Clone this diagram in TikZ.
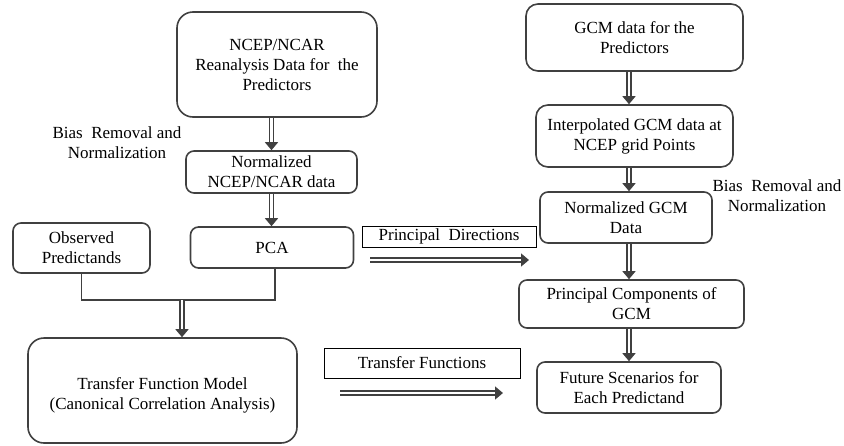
\documentclass[tikz,border=0pt]{standalone}
\usepackage{fontspec}
\setmainfont{Liberation Serif}
\usetikzlibrary{arrows.meta,calc}
\begin{document}
\begin{tikzpicture}[x=1pt,y=-1pt,
  txt/.style={font=\fontsize{17}{20}\selectfont},
  box/.style={txt, draw=black!75, line width=1.6pt, rounded corners=8pt,
    align=center, inner sep=0pt},
  tagbox/.style={txt, draw=black, line width=0.7pt, align=center, inner sep=0pt},
  flow/.style={draw=black!75, line width=1.5pt, double=white, double distance=2.6pt,
    -{Triangle[length=8pt,width=13pt]}},
  link/.style={draw=black!75, line width=1.6pt},
  note/.style={txt, align=center}]
\useasboundingbox (0,0) rectangle (844,445);

% left column
\node[box, minimum width=200pt, minimum height=105pt, rounded corners=16pt] (ncep) at (277,64.5)
  {NCEP/NCAR\\Reanalysis Data for\ \ the\\Predictors};
\node[box, minimum width=171pt, minimum height=42pt] (normn) at (271.5,172)
  {Normalized\\NCEP/NCAR data};
\node[box, minimum width=137pt, minimum height=50pt] (obs) at (81.5,248)
  {Observed\\Predictands};
\node[box, minimum width=163pt, minimum height=41pt] (pca) at (272,247.5) {PCA};
\node[box, minimum width=269pt, minimum height=105pt, rounded corners=16pt] (tfm) at (162.5,390.5)
  {\rule{0pt}{22pt}Transfer Function Model\\(Canonical Correlation Analysis)};
\node[note] (biasL) at (117,143) {Bias\ \ Removal and\\Normalization};

% right column
\node[box, minimum width=217pt, minimum height=67pt, rounded corners=12pt] (gcm) at (634.5,37.5)
  {GCM data for the\\Predictors};
\node[box, minimum width=197pt, minimum height=62pt, rounded corners=12pt] (interp) at (634.5,136)
  {Interpolated GCM data at\\NCEP grid Points};
\node[box, minimum width=172pt, minimum height=51pt] (normg) at (626,217.5)
  {Normalized GCM\\Data};
\node[box, minimum width=225pt, minimum height=48pt] (pcg) at (631.5,304)
  {Principal Components of\\GCM};
\node[box, minimum width=184pt, minimum height=51pt] (fut) at (629,387.5)
  {Future Scenarios for\\Each Predictand};
\node[note] (biasR) at (777,196) {Bias\ \ Removal and\\Normalization};

% labelled transfers between the columns
\node[tagbox, minimum width=174pt, minimum height=21pt] (pdir) at (449,236.5)
  {Principal\ \ Directions};
\node[tagbox, minimum width=196pt, minimum height=30pt] (tfn) at (422,363)
  {Transfer Functions};
\coordinate (pdA) at (370,260);
\coordinate (pdB) at (529,260);
\coordinate (tfA) at (340,393);
\coordinate (tfB) at (503,393);
\draw[flow] (pdA) -- (pdB);
\draw[flow] (tfA) -- (tfB);

% vertical flows
\draw[flow] (ncep.south -| normn.north) -- (normn.north);
\draw[flow] (normn.south) -- (pca.north -| normn.south);
\draw[flow] (gcm.south -| fut.north) -- (interp.north -| fut.north);
\draw[flow] (interp.south -| fut.north) -- (normg.north -| fut.north);
\draw[flow] (normg.south -| fut.north) -- (pcg.north -| fut.north);
\draw[flow] (pcg.south -| fut.north) -- (fut.north);

% merge of observations and PCs into the model
\coordinate (j) at (182,300);
\draw[link] (obs.south) -- (obs.south |- j) -- ($(pca.south |- j)+(3,0)$) -- ($(pca.south)+(3,0)$);
\draw[flow] (j) -- (tfm.north -| j);
\end{tikzpicture}
\end{document}
